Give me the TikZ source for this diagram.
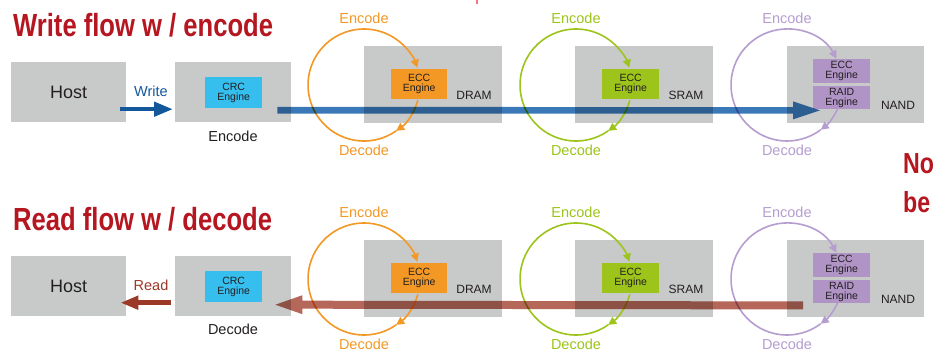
\documentclass[tikz,border=0pt]{standalone}
\usepackage{fontspec}
\setmainfont{Liberation Sans}
\newfontfamily\titlefont[FakeStretch=0.8]{Liberation Sans}
\usetikzlibrary{arrows.meta,calc}
\definecolor{boxgray}{RGB}{200,201,201}
\definecolor{titlered}{RGB}{181,22,32}
\definecolor{txt}{RGB}{35,31,32}
\definecolor{crccyan}{RGB}{54,190,238}
\definecolor{orng}{RGB}{243,152,36}
\definecolor{grn}{RGB}{157,196,26}
\definecolor{prpl}{RGB}{182,157,208}
\definecolor{prplfill}{RGB}{176,148,198}
\definecolor{wblue}{RGB}{20,88,156}
\definecolor{bigblue}{RGB}{58,120,184}
\definecolor{rbrown}{RGB}{155,56,38}
\definecolor{bigred}{RGB}{181,103,90}
\definecolor{tick}{RGB}{238,120,125}
\begin{document}
\begin{tikzpicture}[x=1pt,y=1pt,
  graybox/.style={fill=boxgray,inner sep=0pt,anchor=north west,text=txt},
  engine/.style={inner sep=0pt,anchor=north west,align=center,text=txt,
    font=\fontsize{10.5}{10}\selectfont},
  memlbl/.style={text=txt,inner sep=0pt,font=\fontsize{12}{14}\selectfont},
  circlbl/.style={inner sep=0pt,font=\fontsize{14.5}{16}\selectfont},
  circ/.style={line width=1.6pt},
  circtip/.style={-{Triangle[length=8pt,width=8pt]}},
  titletxt/.style={anchor=base west,inner sep=0pt,text=titlered,
    font=\titlefont\bfseries\fontsize{32}{36}\selectfont},
  sidetxt/.style={anchor=base west,inner sep=0pt,text=titlered,
    font=\titlefont\bfseries\fontsize{29}{32}\selectfont},
  steplbl/.style={inner sep=0pt,text=txt,font=\fontsize{14.5}{16}\selectfont}
]
\useasboundingbox (0,0) rectangle (934,-354);
\fill[white] (0,0) rectangle (934,-354);
\fill[tick] (476,0) rectangle (478,-3.5);

\foreach \r/\dy in {w/0,r/-194}{
\begin{scope}[shift={(0,\dy)}]
  \node[graybox,minimum width=115pt,minimum height=60pt,
        font=\fontsize{18}{20}\selectfont] (host\r) at (11,-62) {Host};
  \node[graybox,minimum width=116pt,minimum height=60pt] (crc\r) at (175,-62) {};
  \node[engine,fill=crccyan,minimum width=57pt,minimum height=31pt] (crceng\r) at (205,-77) {CRC\\Engine};
  \node[graybox,minimum width=138pt,minimum height=77pt] (dram\r) at (364,-46) {};
  \node[graybox,minimum width=138pt,minimum height=77pt] (sram\r) at (575,-46) {};
  \node[graybox,minimum width=137pt,minimum height=77pt] (nand\r) at (787,-46) {};
  \node[memlbl] (dramlbl\r) at (474,-95) {DRAM};
  \node[memlbl] (sramlbl\r) at (686,-95) {SRAM};
  \node[memlbl] (nandlbl\r) at (898,-105) {NAND};
  \foreach \cx/\col/\ea/\sa/\xa in {364/orng/18/-16/-55,576/grn/18/-16/-55,787/prpl/28/-23/-53}{
    \coordinate (c\r\cx) at (\cx,-85);
    \draw[circ,\col,circtip] ([shift={(200:56)}]c\r\cx) arc[start angle=200,end angle=\ea,radius=56];
    \draw[circ,\col,circtip] ([shift={(\sa:56)}]c\r\cx) arc[start angle=\sa,end angle=\xa,radius=56];
    \draw[circ,\col] ([shift={(\xa:56)}]c\r\cx) arc[start angle=\xa,end angle=-160,radius=56];
    \node[circlbl,text=\col] (enc\r\cx) at (\cx,-18) {Encode};
    \node[circlbl,text=\col] (dec\r\cx) at (\cx,-150) {Decode};
  }
  \node[engine,fill=orng,minimum width=56pt,minimum height=30pt] (eccd\r) at (391,-69) {ECC\\Engine};
  \node[engine,fill=grn,minimum width=57pt,minimum height=30pt] (eccs\r) at (602,-69) {ECC\\Engine};
  \node[engine,fill=prplfill,minimum width=57pt,minimum height=24pt] (eccn\r) at (813,-59) {ECC\\Engine};
  \node[engine,fill=prplfill,minimum width=57pt,minimum height=23pt] (raid\r) at (813,-86) {RAID\\Engine};
\end{scope}
}

% titles
\node[titletxt] (t1) at (13,-36) {Write flow w / encode};
\node[titletxt] (t2) at (13,-230) {Read flow w / decode};
\node[sidetxt] (no) at (903,-173) {No};
\node[sidetxt] (be) at (903,-212) {be};

% labels under CRC
\node[steplbl] (encl) at (233,-136) {Encode};
\node[steplbl] (decl) at (233,-329) {Decode};

% write / read arrows
\node[circlbl,text=wblue] (wlbl) at (151,-91) {Write};
\draw[wblue,line width=4.5pt,-{Triangle[length=19pt,width=14pt]}]
  ($(hostw.east)+(-6,-17)$) -- ($(crcw.west)+(-2,-17)$);
\node[circlbl,text=rbrown] (rlbl) at (151,-285) {Read};
\draw[rbrown,line width=4.5pt,-{Triangle[length=18pt,width=13pt]}]
  ($(crcr.west)+(-4,-16.5)$) -- ($(hostr.east)+(-6,-16.5)$);

% big flow arrows
\coordinate (ws) at ($(crcw.east)+(-14,-18)$);
\coordinate (wt) at ($(raidw.south west)+(7,-1)$);
\coordinate (rs) at ($(raidr.south west)+(-10,-2)$);
\coordinate (rt) at ($(crcr.east)+(-16,-18.5)$);
\begin{scope}[blend mode=multiply]
\fill[bigblue] ($(ws)+(0,3.3)$) -- ($(wt)+(-27,3.3)$) -- ($(wt)+(-27,9)$) -- (wt)
  -- ($(wt)+(-27,-9)$) -- ($(wt)+(-27,-3.3)$) -- ($(ws)+(0,-3.3)$) -- cycle;
\fill[bigred] ($(rs)+(0,4)$) -- ($(rt)+(27,4)$) -- ($(rt)+(27,9.5)$) -- (rt)
  -- ($(rt)+(27,-9.5)$) -- ($(rt)+(27,-4)$) -- ($(rs)+(0,-4)$) -- cycle;
\end{scope}
\end{tikzpicture}
\end{document}
